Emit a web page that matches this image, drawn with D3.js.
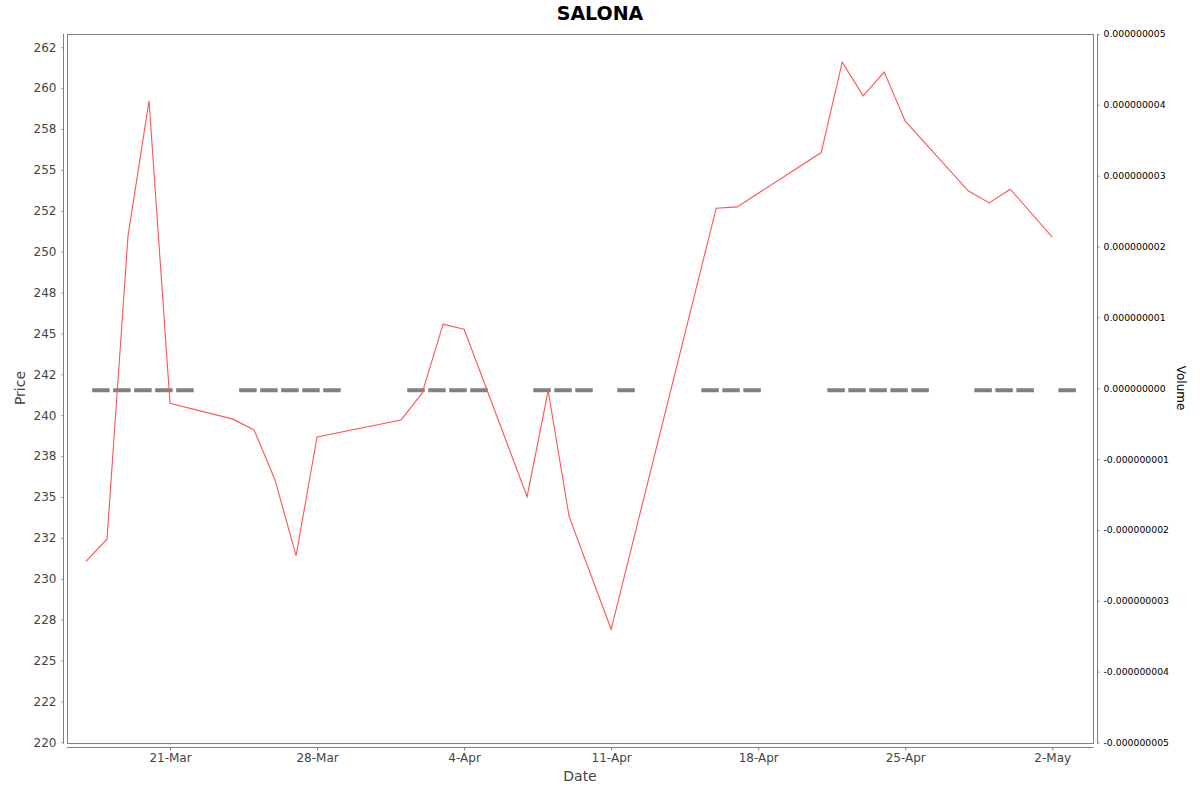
<!DOCTYPE html>
<html>
<head>
<meta charset="utf-8">
<script src="https://cdn.jsdelivr.net/npm/d3@7"></script>
<style>
  body { margin: 0; background: #fff; }
  svg { display: block; font-family: "DejaVu Sans", sans-serif; }
</style>
</head>
<body>
<svg id="chart" width="1200" height="792"></svg>
<script>
// price series (trading days with a close)
const priceDates = [
    '2025-03-17', '2025-03-18', '2025-03-19', '2025-03-20', '2025-03-21',
    '2025-03-24', '2025-03-25', '2025-03-26', '2025-03-27', '2025-03-28',
    '2025-04-01', '2025-04-02', '2025-04-03', '2025-04-04',
    '2025-04-07', '2025-04-08', '2025-04-09', '2025-04-11',
    '2025-04-16', '2025-04-17',
    '2025-04-21', '2025-04-22', '2025-04-23', '2025-04-24', '2025-04-25',
    '2025-04-28', '2025-04-29', '2025-04-30', '2025-05-02'
];
const priceValues = [
    231.07, 232.42, 250.97, 259.22, 240.73,
    239.76, 239.10, 236.04, 231.41, 238.67,
    239.71, 241.35, 245.57, 245.26,
    235.02, 241.51, 233.80, 226.91,
    252.66, 252.74,
    256.06, 261.59, 259.53, 260.98, 257.98,
    253.72, 252.98, 253.82, 250.89
];

// volume series (all zero in the source)
const volumeDates = [
    '2025-03-17', '2025-03-18', '2025-03-19', '2025-03-20', '2025-03-21',
    '2025-03-24', '2025-03-25', '2025-03-26', '2025-03-27', '2025-03-28',
    '2025-04-01', '2025-04-02', '2025-04-03', '2025-04-04',
    '2025-04-07', '2025-04-08', '2025-04-09', '2025-04-11',
    '2025-04-15', '2025-04-16', '2025-04-17',
    '2025-04-21', '2025-04-22', '2025-04-23', '2025-04-24', '2025-04-25',
    '2025-04-28', '2025-04-29', '2025-04-30', '2025-05-02'
];
const volumeValues = [
    0, 0, 0, 0, 0,
    0, 0, 0, 0, 0,
    0, 0, 0, 0,
    0, 0, 0, 0,
    0, 0, 0,
    0, 0, 0, 0, 0,
    0, 0, 0, 0
];

const dateTicks = ['2025-03-21', '2025-03-28', '2025-04-04', '2025-04-11', '2025-04-18', '2025-04-25', '2025-05-02'];
const priceTicks = [220, 222.5, 225, 227.5, 230, 232.5, 235, 237.5, 240, 242.5, 245, 247.5, 250, 252.5, 255, 257.5, 260, 262.5];
const volumeTicks = [-5e-9, -4e-9, -3e-9, -2e-9, -1e-9, 0, 1e-9, 2e-9, 3e-9, 4e-9, 5e-9];

const parse = d3.timeParse('%Y-%m-%d');
const prices = priceDates.map((d, i) => ({ date: parse(d), value: priceValues[i] }));
const volumes = volumeDates.map((d, i) => ({ date: parse(d), value: volumeValues[i] }));

const svg = d3.select('#chart');
const LEFT = 67, RIGHT = 1093, TOP = 34, BOTTOM = 743;
const AXIS_GREY = '#808080';

const x = d3.scaleTime()
    .domain([new Date(2025, 2, 16, 2, 17), new Date(2025, 4, 3, 22, 33)])
    .range([LEFT, RIGHT]);
const y = d3.scaleLinear().domain([219.957, 263.31]).range([BOTTOM, TOP]);
const yVol = d3.scaleLinear().domain([-5e-9, 5e-9]).range([742.5, TOP]);

// labels like 222.5 -> "222", 227.5 -> "228" (round half to even)
function halfEven(v) {
    const f = Math.floor(v);
    if (Math.abs(v - f - 0.5) < 1e-9) return String(f % 2 === 0 ? f : f + 1);
    return String(Math.round(v));
}

// plain hyphen for negatives, like the original
const volFormat = d3.formatLocale({
    decimal: '.', thousands: ',', grouping: [3], currency: ['', ''], minus: '-'
}).format('.9f');

// plot frame
svg.append('rect')
    .attr('x', LEFT + 0.5).attr('y', TOP + 0.5)
    .attr('width', RIGHT - LEFT).attr('height', BOTTOM - TOP)
    .style('fill', 'none').style('stroke', AXIS_GREY).style('stroke-width', 1);

// volume: zero-height bars show as short grey strips
svg.append('g').selectAll('rect')
    .data(volumes)
    .join('rect')
    .attr('x', d => x(d3.timeHour.offset(d.date, 7)))
    .attr('width', d => x(d3.timeHour.offset(d.date, 27)) - x(d3.timeHour.offset(d.date, 7)))
    .attr('y', d => yVol(Math.max(0, d.value)))
    .attr('height', d => Math.abs(yVol(d.value) - yVol(0)) + 4)
    .style('fill', '#808080');

// price line
const line = d3.line().x(d => x(d.date)).y(d => y(d.value));
svg.append('path')
    .datum(prices)
    .attr('d', line)
    .style('fill', 'none').style('stroke', '#ff5555').style('stroke-width', 1.1);

// left axis
const leftAxis = svg.append('g')
    .attr('transform', `translate(${LEFT - 3.5},0)`)
    .call(d3.axisLeft(y).tickValues(priceTicks).tickFormat(halfEven).tickSizeInner(2).tickSizeOuter(0).tickPadding(5));
leftAxis.select('.domain').attr('d', `M0,${TOP}V${BOTTOM + 0.5}`).style('stroke', AXIS_GREY);
leftAxis.selectAll('.tick line').style('stroke', AXIS_GREY);
leftAxis.selectAll('.tick text').style('font-size', '12px').style('fill', '#444')
    .style('font-family', '"DejaVu Sans", sans-serif');

// bottom axis
const bottomAxis = svg.append('g')
    .attr('transform', `translate(0,${BOTTOM + 4.5})`)
    .call(d3.axisBottom(x).tickValues(dateTicks.map(parse)).tickFormat(d3.timeFormat('%-d-%b'))
        .tickSizeInner(3).tickSizeOuter(0).tickPadding(3));
bottomAxis.select('.domain').attr('d', `M${LEFT},0H${RIGHT + 0.5}`).style('stroke', AXIS_GREY);
bottomAxis.selectAll('.tick line').style('stroke', AXIS_GREY);
bottomAxis.selectAll('.tick text').style('font-size', '12px').style('fill', '#444')
    .style('font-family', '"DejaVu Sans", sans-serif');

// right axis (volume)
const rightAxis = svg.append('g')
    .attr('transform', `translate(${RIGHT + 4.5},0)`)
    .call(d3.axisRight(yVol).tickValues(volumeTicks).tickFormat(volFormat)
        .tickSizeInner(2).tickSizeOuter(0).tickPadding(4));
rightAxis.select('.domain').attr('d', `M0,${TOP}V${BOTTOM + 0.5}`).style('stroke', AXIS_GREY);
rightAxis.selectAll('.tick line').style('stroke', AXIS_GREY);
rightAxis.selectAll('.tick text').style('font-size', '9.3px').style('fill', '#000')
    .style('font-family', '"DejaVu Sans", sans-serif');

// titles
svg.append('text')
    .text('SALONA')
    .attr('x', 600).attr('y', 20)
    .style('text-anchor', 'middle')
    .style('font-size', '19px').style('font-weight', 'bold').style('fill', '#000');

svg.append('text')
    .text('Date')
    .attr('x', 580).attr('y', 781)
    .style('text-anchor', 'middle')
    .style('font-size', '14px').style('fill', '#444');

svg.append('text')
    .text('Price')
    .attr('transform', 'translate(25,388) rotate(-90)')
    .style('text-anchor', 'middle')
    .style('font-size', '14px').style('fill', '#444');

svg.append('text')
    .text('Volume')
    .attr('transform', 'translate(1177,388) rotate(90)')
    .style('text-anchor', 'middle')
    .style('font-size', '12px').style('fill', '#000');
</script>
</body>
</html>
